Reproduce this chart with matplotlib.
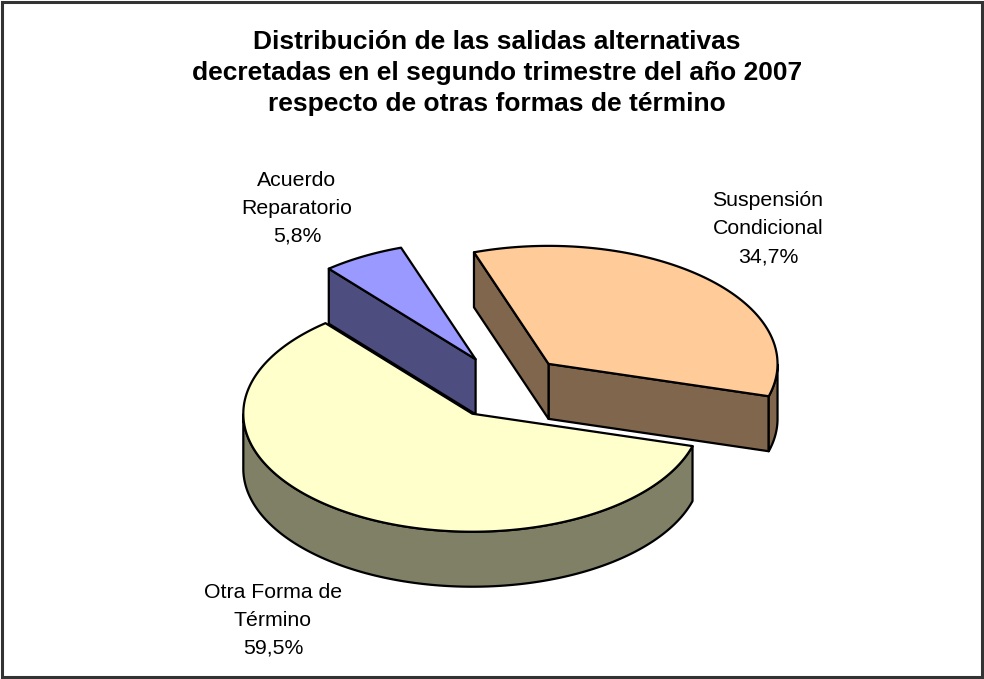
import numpy as np
import matplotlib
matplotlib.use("Agg")
import matplotlib.pyplot as plt
from matplotlib.patches import Polygon, Rectangle

# ---- data ----
categories = ["Suspensión\nCondicional", "Otra Forma de\nTérmino", "Acuerdo\nReparatorio"]
values = [34.7, 59.5, 5.8]
value_labels = ["34,7%", "59,5%", "5,8%"]
top_colors = ["#FFCC99", "#FFFFCC", "#9999FF"]
side_colors = ["#80664D", "#808066", "#4D4D80"]
title = ("Distribución de las salidas alternativas\n"
         "decretadas en el segundo trimestre del año 2007\n"
         "respecto de otras formas de término")

# ---- geometry (pixel-like coordinates) ----
W, H = 984, 679
cx, cy = 506, 387
rx, ry = 229, 118
depth = 55
explode = 0.27
start_angle = 109.0

fig = plt.figure(figsize=(W / 100, H / 100), dpi=100)
ax = fig.add_axes([0, 0, 1, 1])
ax.set_xlim(0, W)
ax.set_ylim(H, 0)
ax.axis("off")

ax.add_patch(Rectangle((1.5, 1.5), W - 3.5, H - 3.5, fill=False,
                       edgecolor="#333333", linewidth=2.2))

total = sum(values)
spans = [v / total * 360.0 for v in values]
slices = []
a = start_angle
for i, s in enumerate(spans):
    a0 = a - s   # clockwise
    a1 = a
    slices.append((i, a0, a1))
    a = a0


def pt(ox, oy, th, dz=0.0):
    t = np.radians(th)
    return (ox + rx * np.cos(t), oy - ry * np.sin(t) + dz)


geo = []
for i, a0, a1 in slices:
    mid = np.radians((a0 + a1) / 2)
    ox = cx + explode * rx * np.cos(mid)
    oy = cy - explode * ry * np.sin(mid)
    geo.append((i, a0, a1, ox, oy))

# draw order: back slices first (by apex y)
order = sorted(geo, key=lambda g: g[4])
lw = 1.6
for i, a0, a1, ox, oy in order:
    tc, sc = top_colors[i], side_colors[i]
    # radial walls
    for th, sign in ((a0, -1), (a1, +1)):
        nth = np.radians(th + sign * 90)
        if np.sin(nth) < 0:
            p = pt(ox, oy, th)
            quad = [(ox, oy), p, (p[0], p[1] + depth), (ox, oy + depth)]
            ax.add_patch(Polygon(quad, closed=True, facecolor=sc,
                                 edgecolor="black", linewidth=lw, joinstyle="round"))
    # curved front side
    ths = np.linspace(a0, a1, 400)
    vis = ths[np.sin(np.radians(ths)) < 0]
    if len(vis) > 1:
        topc = [pt(ox, oy, t) for t in vis]
        botc = [pt(ox, oy, t, depth) for t in vis[::-1]]
        ax.add_patch(Polygon(topc + botc, closed=True, facecolor=sc,
                             edgecolor="black", linewidth=lw, joinstyle="round"))
    # top face
    arc = [pt(ox, oy, t) for t in np.linspace(a0, a1, 300)]
    ax.add_patch(Polygon([(ox, oy)] + arc, closed=True, facecolor=tc,
                         edgecolor="black", linewidth=lw, joinstyle="round"))

# labels
label_pos = [(768, 229), (273, 620), (297, 208)]
for i in range(len(values)):
    ax.text(label_pos[i][0], label_pos[i][1], categories[i] + "\n" + value_labels[i],
            ha="center", va="center", fontsize=15.3, family="Liberation Sans",
            linespacing=1.6, color="black")

ax.text(497, 73, title, ha="center", va="center", fontsize=19, fontweight="bold",
        family="Liberation Sans", linespacing=1.35, color="black")

fig.savefig("out.png", dpi=100)
